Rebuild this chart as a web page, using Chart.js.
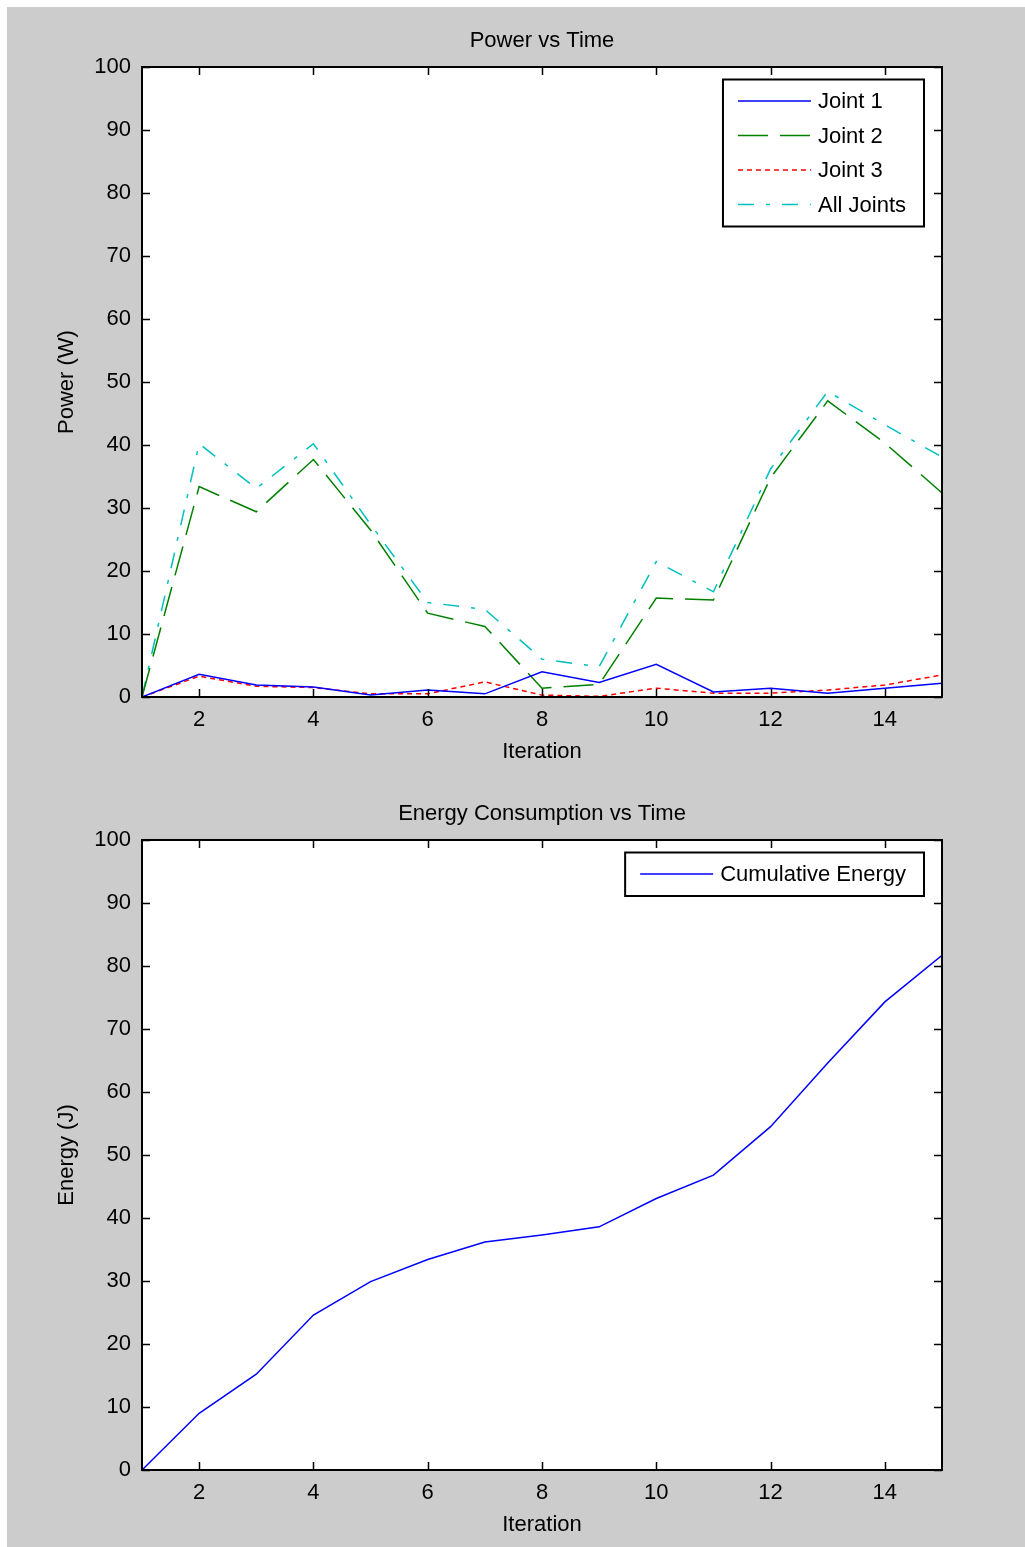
<!DOCTYPE html>
<html>
<head>
<meta charset="utf-8">
<script src="https://cdn.jsdelivr.net/npm/chart.js@4.4.1/dist/chart.umd.min.js"></script>
<style>
  html, body { margin: 0; padding: 0; background: #ffffff; }
  #fig { position: absolute; left: 7px; top: 7px; width: 1018px; height: 1540px; background: #cccccc; }
  canvas { position: absolute; left: 0; width: 1025px; height: 774px; }
  #powerChart { top: 0; }
  #energyChart { top: 773px; }
</style>
</head>
<body>
<div id="fig"></div>
<canvas id="powerChart" width="1025" height="774"></canvas>
<canvas id="energyChart" width="1025" height="774"></canvas>
<script>
// Iteration index shared by both plots
const iterations = [1, 2, 3, 4, 5, 6, 7, 8, 9, 10, 11, 12, 13, 14, 15];

// Power per joint (W)
const joint1 = [0, 3.6, 1.9, 1.6, 0.3, 1.1, 0.5, 4.0, 2.3, 5.2, 0.8, 1.4, 0.6, 1.4, 2.2];
const joint2 = [0, 33.4, 29.4, 37.7, 26.5, 13.3, 11.2, 1.4, 2.0, 15.7, 15.4, 34.8, 47.0, 40.3, 32.4];
const joint3 = [0, 3.3, 1.7, 1.5, 0.5, 0.5, 2.4, 0.3, 0.1, 1.4, 0.6, 0.6, 1.1, 1.9, 3.5];
const allJoints = [0, 40.2, 33.1, 40.2, 27.4, 15.0, 13.9, 6.0, 4.8, 21.5, 16.7, 36.2, 48.5, 43.2, 38.1];

// Cumulative energy (J)
const cumulativeEnergy = [0, 9.0, 15.2, 24.6, 29.9, 33.4, 36.2, 37.3, 38.6, 43.1, 46.8, 54.5, 64.6, 74.3, 81.7];

// Axis ticks
const xTicks = [2, 4, 6, 8, 10, 12, 14];
const yTicks = [0, 10, 20, 30, 40, 50, 60, 70, 80, 90, 100];

const FONT = "'Liberation Sans', Arial, sans-serif";
const FONT_SIZE = 22;
const TICK_LEN = 8;

const toPoints = (ys) => iterations.map((x, i) => ({ x: x, y: ys[i] }));

// White plot box, inward tick marks on all four sides, and a boxed legend
const axesBox = {
  id: 'axesBox',
  beforeDraw(chart) {
    const { ctx, chartArea: a } = chart;
    ctx.save();
    ctx.fillStyle = '#ffffff';
    ctx.fillRect(a.left, a.top, a.right - a.left, a.bottom - a.top);
    ctx.restore();
  },
  afterDraw(chart) {
    const { ctx, chartArea: a, scales } = chart;
    const x = scales.x, y = scales.y;
    ctx.save();
    ctx.strokeStyle = '#000000';
    ctx.lineWidth = 1.5;
    ctx.beginPath();
    x.ticks.forEach(t => {
      const px = Math.round(x.getPixelForValue(t.value)) + 0.5;
      ctx.moveTo(px, a.bottom); ctx.lineTo(px, a.bottom - TICK_LEN);
      ctx.moveTo(px, a.top); ctx.lineTo(px, a.top + TICK_LEN);
    });
    y.ticks.forEach(t => {
      const py = Math.round(y.getPixelForValue(t.value)) + 0.5;
      ctx.moveTo(a.left, py); ctx.lineTo(a.left + TICK_LEN, py);
      ctx.moveTo(a.right, py); ctx.lineTo(a.right - TICK_LEN, py);
    });
    ctx.stroke();
    ctx.lineWidth = 2;
    ctx.strokeRect(a.left, a.top, a.right - a.left, a.bottom - a.top);

    // legend box in the upper right corner of the plot
    const sets = chart.data.datasets;
    ctx.font = FONT_SIZE + 'px ' + FONT;
    const textW = Math.max(...sets.map(d => ctx.measureText(d.label).width));
    const sampleLen = 73, padL = 15, gap = 7, padR = 18, rowH = 34.5;
    const boxW = padL + sampleLen + gap + textW + padR;
    const boxH = (sets.length - 1) * rowH + 43.5;
    const bx = a.right - 18 - boxW;
    const by = a.top + 12.5;
    ctx.fillStyle = '#ffffff';
    ctx.fillRect(bx, by, boxW, boxH);
    ctx.lineWidth = 2;
    ctx.strokeStyle = '#000000';
    ctx.strokeRect(bx, by, boxW, boxH);
    sets.forEach((d, i) => {
      const cy = by + 21.5 + i * rowH;
      ctx.save();
      ctx.strokeStyle = d.borderColor;
      ctx.lineWidth = d.borderWidth;
      ctx.setLineDash(d.borderDash || []);
      ctx.beginPath();
      ctx.moveTo(bx + padL, cy);
      ctx.lineTo(bx + padL + sampleLen, cy);
      ctx.stroke();
      ctx.restore();
      ctx.fillStyle = '#000000';
      ctx.textAlign = 'left';
      ctx.textBaseline = 'middle';
      ctx.fillText(d.label, bx + padL + sampleLen + gap, cy + 1);
    });
    ctx.restore();
  }
};

function makeOptions(title, yTitle) {
  const font = { family: FONT, size: FONT_SIZE, weight: 'normal' };
  const noGrid = { display: false, drawTicks: false, tickLength: 0 };
  return {
    responsive: false,
    animation: false,
    devicePixelRatio: 1,
    layout: { padding: { left: 0, right: 83, top: 0, bottom: 0 } },
    elements: { point: { radius: 0 }, line: { tension: 0 } },
    plugins: {
      legend: { display: false },
      tooltip: { enabled: false },
      title: {
        display: true, fullSize: false, text: title, color: '#000000', font: font,
        padding: { top: 27.8, bottom: 12.8 }
      }
    },
    scales: {
      x: {
        type: 'linear', min: 1, max: 15,
        grid: noGrid, border: { display: false },
        afterBuildTicks: s => { s.ticks = xTicks.map(v => ({ value: v })); },
        afterFit: s => { s.height = 77; },
        ticks: { color: '#000000', font: font, padding: 9.8, maxRotation: 0, autoSkip: false },
        title: { display: true, text: 'Iteration', color: '#000000', font: font, padding: { top: 0, bottom: 8.8 } }
      },
      y: {
        type: 'linear', min: 0, max: 100,
        grid: noGrid, border: { display: false },
        afterBuildTicks: s => { s.ticks = yTicks.map(v => ({ value: v })); },
        afterFit: s => { s.width = 142; },
        ticks: { color: '#000000', font: font, padding: 11, autoSkip: false },
        title: { display: true, text: yTitle, color: '#000000', font: font, padding: { top: 53.8, bottom: 0 } }
      }
    }
  };
}

new Chart(document.getElementById('powerChart'), {
  type: 'line',
  data: {
    datasets: [
      { label: 'Joint 1', data: toPoints(joint1), borderColor: '#0000ff', borderWidth: 1.5, fill: false },
      { label: 'Joint 2', data: toPoints(joint2), borderColor: '#008000', borderWidth: 1.5, borderDash: [30, 12], fill: false },
      { label: 'Joint 3', data: toPoints(joint3), borderColor: '#ff0000', borderWidth: 1.5, borderDash: [5, 4], fill: false },
      { label: 'All Joints', data: toPoints(allJoints), borderColor: '#00bfbf', borderWidth: 1.5, borderDash: [16, 12, 4, 12], fill: false }
    ]
  },
  options: makeOptions('Power vs Time', 'Power (W)'),
  plugins: [axesBox]
});

new Chart(document.getElementById('energyChart'), {
  type: 'line',
  data: {
    datasets: [
      { label: 'Cumulative Energy', data: toPoints(cumulativeEnergy), borderColor: '#0000ff', borderWidth: 1.5, fill: false }
    ]
  },
  options: makeOptions('Energy Consumption vs Time', 'Energy (J)'),
  plugins: [axesBox]
});
</script>
</body>
</html>
